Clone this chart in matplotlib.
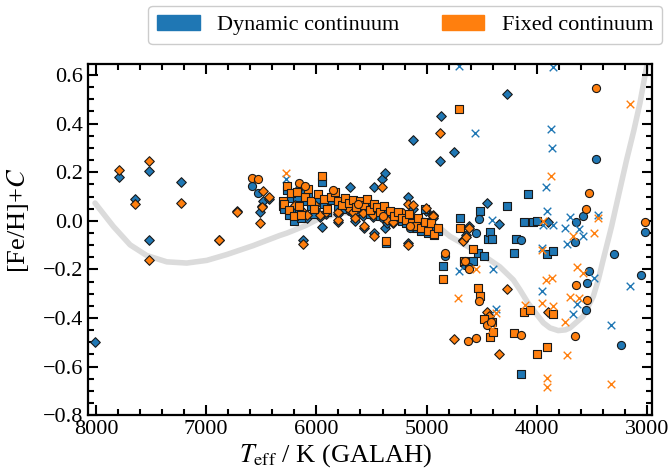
import numpy as np
import matplotlib
matplotlib.use("Agg")
from matplotlib import pyplot as plt
from matplotlib.patches import Patch
from matplotlib.ticker import MultipleLocator

plt.rcParams['font.family'] = 'serif'
plt.rcParams['font.serif'] = ['Liberation Serif', 'DejaVu Serif']
plt.rcParams['mathtext.fontset'] = 'stix'

nan = np.nan

# diamonds: Teff, [Fe/H]+C dynamic, fixed
d_teff = [8009, 7794, 7649, 7516, 7516, 7226, 6887, 6723, 6512, 6490, 6482, 6427,
          6194, 6119, 6119, 6083, 6013, 5967, 5952, 5913, 5801, 5801, 5710, 5695,
          5665, 5650, 5575, 5568, 5484, 5477, 5477, 5408, 5378, 5378, 5362, 5302,
          5241, 5218, 5166, 5166, 5127, 5127, 5001, 4945, 4940, 4878, 4872, 4751,
          4667, 4642, 4615, 4455, 4431, 4343, 4268, 3896]
d_dyn = [-0.50, 0.18, 0.088, 0.204, -0.079, 0.16, -0.08, 0.04, 0.036, 0.06, 0.083, 0.09,
         0.05, 0.03, -0.08, 0.01, 0.05, 0.015, -0.026, 0.03, -0.005, 0.03, 0.045, 0.141,
         0.03, 0.0, 0.02, -0.03, 0.015, -0.05, 0.138, 0.171, 0.196, -0.03, -0.01, -0.01,
         0.015, 0.02, 0.10, -0.09, 0.333, 0.05, 0.04, 0.02, 0.01, 0.248, 0.432, 0.285,
         -0.08, -0.06, -0.02, 0.073, -0.39, -0.012, 0.522, -0.004]
d_fix = [nan, 0.21, 0.071, 0.248, -0.16, 0.075, -0.079, 0.037, -0.01, 0.056, 0.122, 0.10,
         0.066, 0.038, -0.096, 0.025, 0.066, 0.025, nan, 0.038, 0.004, 0.038, 0.052, nan,
         0.038, 0.011, 0.032, -0.021, 0.025, -0.062, nan, 0.138, nan, nan, 0.004, -0.003,
         0.025, 0.034, 0.07, -0.099, nan, 0.065, 0.052, 0.025, 0.02, 0.36, nan, -0.486,
         -0.085, -0.065, -0.028, -0.377, -0.393, -0.547, -0.28, -0.375]

# squares
s_teff = [6306, 6290, 6270, 6250, 6230, 6200, 6180, 6160, 6140, 6100, 6080, 6050,
          6020, 5990, 5952, 5930, 5900, 5870, 5830, 5800, 5770, 5740, 5700, 5670,
          5640, 5600, 5570, 5540, 5510, 5480, 5450, 5420, 5390, 5369, 5330, 5300,
          5260, 5220, 5190, 5160, 5130, 5100, 5080, 5050, 5015, 4990, 4960, 4930,
          4900, 4855, 4706, 4700, 4660, 4583, 4530, 4516, 4476, 4440, 4425, 4410,
          4401, 4268, 4207, 4192, 4147, 4116, 4077, 4062, 4032, 4001, 3910, 3850]
s_dyn = [0.06, 0.05, 0.125, 0.025, 0.095, 0.0, 0.10, 0.04, 0.01, 0.08, 0.11, 0.06,
         0.03, 0.09, 0.159, 0.07, 0.035, 0.085, 0.10, 0.06, 0.05, 0.08, 0.06, 0.07,
         0.04, 0.065, 0.05, 0.08, 0.03, 0.06, 0.045, 0.02, 0.05, -0.09, 0.03, 0.01,
         0.03, 0.0, -0.01, 0.02, -0.02, -0.03, 0.0, -0.04, 0.048, -0.05, -0.02, -0.06,
         -0.04, -0.185, nan, 0.012, -0.17, -0.167, -0.133, 0.042, -0.147, -0.074, -0.048, -0.074,
         nan, 0.059, -0.133, -0.074, -0.629, -0.007, 0.111, nan, -0.005, -0.002, -0.136, -0.123]
s_fix = [0.083, 0.07, 0.145, 0.045, 0.115, 0.021, 0.12, 0.06, 0.025, 0.10, 0.13, 0.08,
         0.05, 0.11, 0.185, 0.09, 0.05, 0.10, 0.12, 0.08, 0.065, 0.095, 0.075, 0.085,
         0.055, 0.08, 0.065, 0.09, 0.045, 0.07, 0.055, 0.035, 0.06, -0.083, 0.04, 0.02,
         0.035, 0.01, 0.005, 0.03, -0.01, -0.02, 0.01, -0.03, -0.005, -0.04, -0.01, -0.055,
         -0.03, -0.24, 0.459, -0.03, -0.167, -0.115, -0.275, -0.31, -0.404, nan, -0.478, -0.418,
         -0.459, nan, -0.462, nan, nan, -0.377, nan, -0.369, nan, -0.55, -0.519, -0.382]

# circles
c_teff = [6584, 6533, 6155, 6104, 5847, 5620, 5400, 5150, 4833, 4651, 4614, 4552,
          4525, 4455, 4419, 4622, 4147, 3654, 3645, 3584, 3554, 3548, 3524, 3463,
          3300, 3232, 3051, 3016]
c_dyn = [0.144, 0.116, 0.13, 0.12, 0.10, 0.06, 0.01, -0.03, -0.147, -0.18, -0.19, -0.051,
         0.008, nan, nan, nan, -0.078, -0.089, -0.003, 0.018, -0.366, -0.256, -0.208, 0.255,
         -0.137, -0.512, -0.225, -0.045]
c_fix = [0.175, 0.17, 0.155, 0.144, 0.127, 0.07, 0.02, -0.02, -0.133, -0.167, -0.20, -0.482,
         -0.33, -0.427, -0.418, -0.496, -0.469, -0.473, -0.266, nan, 0.048, -0.325, 0.116, 0.545,
         nan, nan, nan, -0.003]

# crosses
x_teff = [6276, 4712, 4706, 4702, 4561, 4552, 4410, 4401, 4374, 4107, 3956, 3950,
          3947, 3917, 3905, 3905, 3875, 3865, 3856, 3850, 3744, 3729, 3699, 3669,
          3633, 3617, 3578, 3478, 3448, 3330, 3155]
x_dyn = [0.171, nan, 0.637, -0.208, 0.36, nan, 0.004, -0.20, -0.363, nan, -0.29, -0.11,
         -0.016, 0.139, 0.042, nan, 0.378, 0.299, -0.016, 0.632, -0.028, -0.096, 0.014, -0.382,
         -0.341, -0.032, -0.064, -0.236, 0.022, -0.427, -0.27]
x_fix = [0.198, -0.318, nan, nan, nan, -0.20, -0.445, nan, -0.38, -0.345, -0.338, -0.12,
         0.001, -0.243, -0.649, -0.683, 0.185, -0.236, -0.352, nan, -0.417, -0.551, -0.314, -0.064,
         -0.19, -0.318, -0.215, -0.051, 0.011, -0.67, 0.481]

# grey trend line
line_teff = [8009, 7843, 7691, 7540, 7358, 7177, 6995, 6814, 6573, 6330, 6270, 6100,
             5967, 5759, 5600, 5400, 5200, 5060, 4878, 4788, 4650, 4516, 4334, 4213,
             4153, 4077, 4001, 3940, 3880, 3805, 3740, 3699, 3578, 3487, 3440, 3397,
             3321, 3275, 3185, 3120, 3064, 3003, 2985]
line_feh = [0.073, -0.023, -0.099, -0.143, -0.169, -0.174, -0.163, -0.139, -0.102, -0.06, -0.051, -0.02,
            0.011, 0.033, 0.035, 0.03, 0.02, 0.012, -0.03, -0.064, -0.10, -0.133, -0.19, -0.243,
            -0.284, -0.34, -0.385, -0.42, -0.441, -0.452, -0.449, -0.441, -0.393, -0.311, -0.24, -0.16,
            -0.023, 0.07, 0.25, 0.37, 0.484, 0.634, 0.68]

blue = '#1f77b4'
orange = '#ff7f0e'

fig = plt.figure(figsize=(6.7, 4.68), dpi=100)
ax = fig.add_axes([0.131, 0.113, 0.842, 0.750])

ax.plot(line_teff, line_feh, color='0.86', lw=4, zorder=1, solid_capstyle='round')

groups = [(d_teff, d_dyn, d_fix, 'D', 24),
          (s_teff, s_dyn, s_fix, 's', 30),
          (c_teff, c_dyn, c_fix, 'o', 34),
          (x_teff, x_dyn, x_fix, 'x', 30)]
for jj, (col, k) in enumerate([(blue, 1), (orange, 2)]):
    for g in groups:
        t = g[0]
        v = g[k]
        if g[3] == 'x':
            ax.scatter(t, v, marker='x', s=g[4], color=col, lw=1.0, zorder=2 + jj)
        else:
            ax.scatter(t, v, marker=g[3], s=g[4], facecolor=col, edgecolor='0.1',
                       lw=0.8, zorder=2 + jj)

ax.set_xlim(8075, 2955)
ax.set_ylim(-0.8, 0.645)
ax.xaxis.set_major_locator(MultipleLocator(1000))
ax.xaxis.set_minor_locator(MultipleLocator(200))
ax.yaxis.set_major_locator(MultipleLocator(0.2))
ax.yaxis.set_minor_locator(MultipleLocator(0.05))
ax.tick_params(which='both', direction='in', top=True, right=True, labelsize=16, width=1.5)
ax.tick_params(which='major', length=7)
ax.tick_params(which='minor', length=4)
for sp in ax.spines.values():
    sp.set_linewidth(1.6)

ax.set_xlabel(r'$T_{\rm eff}$ / K (GALAH)', fontsize=19)
ax.set_ylabel(r'[Fe/H]+$C$', fontsize=19)
ax.xaxis.set_label_coords(0.44, -0.077)
ax.yaxis.set_label_coords(-0.1, 0.556)

handles = [Patch(color=blue), Patch(color=orange)]
ax.legend(handles, ['Dynamic continuum', 'Fixed continuum'], ncol=2, fontsize=16,
          loc='lower right', bbox_to_anchor=(1.018, 1.057), borderaxespad=0,
          handlelength=1.9, columnspacing=1.9, fancybox=True, edgecolor='0.8',
          framealpha=1)

plt.savefig('out.png', dpi=100)
